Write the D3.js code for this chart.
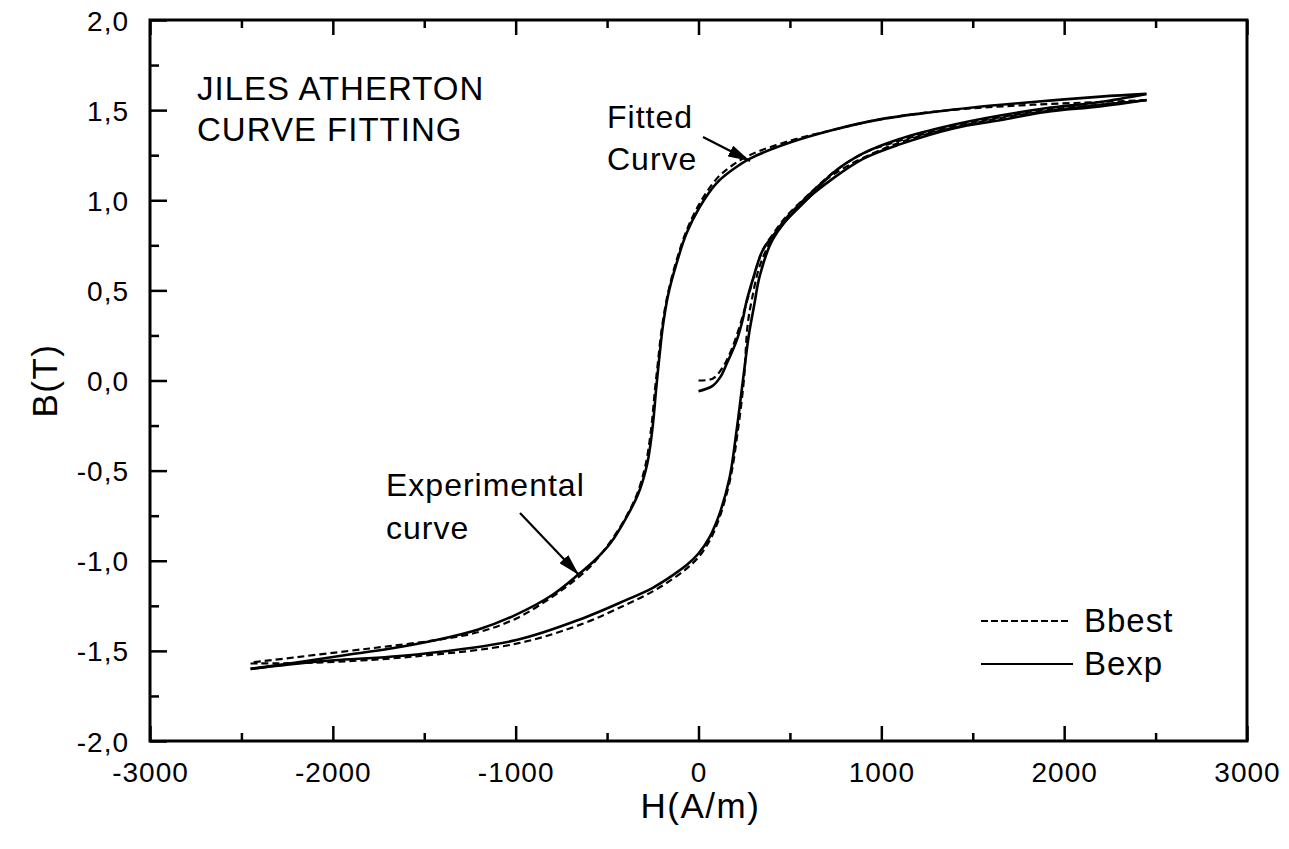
<!DOCTYPE html>
<html>
<head>
<meta charset="utf-8">
<script src="https://cdn.jsdelivr.net/npm/d3@7"></script>
<style>
  html, body { margin: 0; padding: 0; background: #fff; }
  svg { display: block; }
  text { font-family: "Liberation Sans", Arial, sans-serif; fill: #000; }
</style>
</head>
<body>
<svg id="chart" width="1289" height="849"></svg>
<script>
// ---- Data (H in A/m, B in T) ----
const xTickValues = [-3000, -2000, -1000, 0, 1000, 2000, 3000];
const yTickValues = [-2.0, -1.5, -1.0, -0.5, 0.0, 0.5, 1.0, 1.5, 2.0];
const legendLabels = ["Bbest", "Bexp"];

// Bexp (experimental, solid)
const expInitial = [[0,-0.06],[77,-0.03],[120,0.02],[153,0.09],[208,0.22],[240,0.33],[263,0.44],[300,0.57],[350,0.72],[420,0.82],[480,0.89],[600,1.01],[733,1.15],[900,1.26],[1100,1.34],[1400,1.42],[1650,1.47],[1900,1.51],[2195,1.545],[2450,1.59]];
const expDesc = [[2450,1.59],[2200,1.575],[1828,1.545],[1500,1.515],[1281,1.49],[1000,1.45],[734,1.39],[500,1.32],[279,1.23],[180,1.165],[98,1.094],[5,0.96],[-66,0.815],[-120,0.65],[-165,0.48],[-195,0.3],[-215,0.12],[-232,-0.05],[-250,-0.25],[-280,-0.46],[-330,-0.63],[-400,-0.77],[-480,-0.9],[-570,-1.0],[-650,-1.07],[-800,-1.19],[-1000,-1.3],[-1200,-1.38],[-1434,-1.44],[-1700,-1.49],[-1910,-1.52],[-2200,-1.565],[-2450,-1.6]];
const expAsc = [[-2450,-1.6],[-2090,-1.56],[-1543,-1.52],[-996,-1.44],[-634,-1.32],[-400,-1.22],[-250,-1.15],[-140,-1.08],[-60,-1.02],[0,-0.96],[60,-0.87],[115,-0.74],[170,-0.54],[208,-0.28],[243,0.0],[275,0.25],[305,0.42],[335,0.58],[405,0.78],[553,0.97],[734,1.12],[900,1.23],[1100,1.31],[1400,1.4],[1648,1.444],[1900,1.49],[2195,1.52],[2450,1.556]];

// Bbest (fitted, dashed)
const bestInitial = [[0,0.0],[77,0.01],[131,0.07],[180,0.17],[225,0.3],[265,0.44],[350,0.72],[420,0.83],[480,0.91],[600,1.03],[733,1.15],[900,1.26],[1100,1.33],[1400,1.41],[1648,1.46],[1900,1.5],[2195,1.53],[2450,1.555]];
const bestDesc = [[2450,1.555],[2195,1.545],[1828,1.53],[1500,1.51],[1281,1.49],[1000,1.45],[734,1.39],[500,1.33],[279,1.25],[180,1.19],[100,1.12],[5,0.98],[-66,0.83],[-125,0.65],[-170,0.47],[-202,0.28],[-222,0.1],[-240,-0.07],[-258,-0.26],[-290,-0.47],[-340,-0.64],[-415,-0.79],[-500,-0.92],[-590,-1.03],[-680,-1.11],[-800,-1.2],[-996,-1.32],[-1200,-1.395],[-1434,-1.44],[-1700,-1.475],[-1910,-1.5],[-2200,-1.535],[-2450,-1.565]];
const bestAsc = [[-2450,-1.57],[-2090,-1.565],[-1543,-1.53],[-996,-1.46],[-634,-1.35],[-400,-1.245],[-250,-1.17],[-140,-1.1],[-60,-1.04],[0,-0.98],[60,-0.89],[115,-0.76],[175,-0.54],[215,-0.28],[248,0.0],[268,0.3],[292,0.45],[340,0.65],[440,0.85],[553,0.98],[733,1.14],[1100,1.32],[1648,1.455],[2195,1.53],[2450,1.555]];

// ---- Layout ----
const svg = d3.select("#chart");
const pLeft = 150, pRight = 1247, pTop = 20, pBottom = 741;

const x = d3.scaleLinear().domain([-3000, 3000]).range([pLeft, pRight]);
const y = d3.scaleLinear().domain([-2, 2]).range([pBottom, pTop]);

const locale = d3.formatLocale({decimal: ",", thousands: "", grouping: [3], currency: ["", ""], minus: "-"});
const fmtY = locale.format(".1f");
const fmtX = locale.format("d");

const xMinor = d3.range(-2500, 3000, 1000);
const yMinor = d3.range(-1.75, 2, 0.5);

const axisG = svg.append("g");

// Bottom axis
const bottomAxis = d3.axisBottom(x).tickValues(xTickValues).tickFormat(fmtX).tickSizeInner(-15).tickSizeOuter(0).tickPadding(21);
const gB = axisG.append("g").attr("transform", `translate(0,${pBottom})`).call(bottomAxis);
gB.select(".domain").remove();
gB.selectAll(".tick line").attr("stroke-width", 2.5);
gB.selectAll(".tick text").attr("font-size", 28).attr("letter-spacing", 1).attr("dy", "0.71em");
const bottomMinor = d3.axisBottom(x).tickValues(xMinor).tickFormat("").tickSizeInner(-8).tickSizeOuter(0);
const gBm = axisG.append("g").attr("transform", `translate(0,${pBottom})`).call(bottomMinor);
gBm.select(".domain").remove();
gBm.selectAll(".tick line").attr("stroke-width", 2.5);

// Top axis (ticks only)
const topAxis = d3.axisTop(x).tickValues(xTickValues).tickFormat("").tickSizeInner(-15).tickSizeOuter(0);
const gT = axisG.append("g").attr("transform", `translate(0,${pTop})`).call(topAxis);
gT.select(".domain").remove();
gT.selectAll(".tick line").attr("stroke-width", 2.5);
const topMinor = d3.axisTop(x).tickValues(xMinor).tickFormat("").tickSizeInner(-8).tickSizeOuter(0);
const gTm = axisG.append("g").attr("transform", `translate(0,${pTop})`).call(topMinor);
gTm.select(".domain").remove();
gTm.selectAll(".tick line").attr("stroke-width", 2.5);

// Left axis
const leftAxis = d3.axisLeft(y).tickValues(yTickValues).tickFormat(fmtY).tickSizeInner(-17).tickSizeOuter(0).tickPadding(21);
const gL = axisG.append("g").attr("transform", `translate(${pLeft},0)`).call(leftAxis);
gL.select(".domain").remove();
gL.selectAll(".tick line").attr("stroke-width", 2.5);
gL.selectAll(".tick text").attr("font-size", 28).attr("letter-spacing", 1).attr("dy", "0.36em");
const leftMinor = d3.axisLeft(y).tickValues(yMinor).tickFormat("").tickSizeInner(-9).tickSizeOuter(0);
const gLm = axisG.append("g").attr("transform", `translate(${pLeft},0)`).call(leftMinor);
gLm.select(".domain").remove();
gLm.selectAll(".tick line").attr("stroke-width", 2.5);

// Frame
svg.append("rect").attr("x", pLeft).attr("y", pTop).attr("width", pRight - pLeft).attr("height", pBottom - pTop)
  .attr("fill", "none").attr("stroke", "#000").attr("stroke-width", 3);

// Axis titles
svg.append("text").attr("x", (pLeft + pRight) / 2 + 2).attr("y", 818).attr("text-anchor", "middle")
  .attr("font-size", 35).attr("letter-spacing", 1.5).text("H(A/m)");
svg.append("text").attr("transform", `translate(57,${(pTop + pBottom) / 2}) rotate(-90)`).attr("text-anchor", "middle")
  .attr("font-size", 35).attr("letter-spacing", 1.5).text("B(T)");

// Curves
const line = d3.line().x(d => x(d[0])).y(d => y(d[1])).curve(d3.curveCatmullRom.alpha(0.5));
const plot = svg.append("g");
[bestInitial, bestDesc, bestAsc].forEach(s => {
  plot.append("path").datum(s).attr("d", line).attr("fill", "none").attr("stroke", "#000")
    .attr("stroke-width", 2.2).attr("stroke-dasharray", "7,4");
});
[expInitial, expDesc, expAsc].forEach(s => {
  plot.append("path").datum(s).attr("d", line).attr("fill", "none").attr("stroke", "#000")
    .attr("stroke-width", 2.6);
});

// Annotations
const defs = svg.append("defs");
defs.append("marker").attr("id", "arrow").attr("viewBox", "0 0 22 12").attr("refX", 22).attr("refY", 6)
  .attr("markerWidth", 22).attr("markerHeight", 12).attr("markerUnits", "userSpaceOnUse").attr("orient", "auto")
  .append("path").attr("d", "M0,0 L22,6 L0,12 Z").attr("fill", "#000");

const note = (tx, ty, s, size) => svg.append("text").attr("x", tx).attr("y", ty).attr("font-size", size || 32).attr("letter-spacing", 1).text(s);
note(197, 100, "JILES ATHERTON", 33);
note(197, 141, "CURVE FITTING", 33);
note(607, 128, "Fitted");
note(607, 170, "Curve");
note(386, 496, "Experimental");
note(386, 539, "curve");

svg.append("line").attr("x1", 703).attr("y1", 137).attr("x2", 750).attr("y2", 161)
  .attr("stroke", "#000").attr("stroke-width", 2.2).attr("marker-end", "url(#arrow)");
svg.append("line").attr("x1", 520).attr("y1", 513).attr("x2", 579).attr("y2", 575)
  .attr("stroke", "#000").attr("stroke-width", 2.2).attr("marker-end", "url(#arrow)");

// Legend
const legend = svg.append("g");
legend.append("line").attr("x1", 981).attr("x2", 1071).attr("y1", 621).attr("y2", 621)
  .attr("stroke", "#000").attr("stroke-width", 2).attr("stroke-dasharray", "7,3");
legend.append("line").attr("x1", 981).attr("x2", 1073).attr("y1", 664).attr("y2", 664)
  .attr("stroke", "#000").attr("stroke-width", 2);
legend.append("text").attr("x", 1084).attr("y", 632).attr("font-size", 33).attr("letter-spacing", 1).text(legendLabels[0]);
legend.append("text").attr("x", 1084).attr("y", 675).attr("font-size", 33).attr("letter-spacing", 1).text(legendLabels[1]);
</script>
</body>
</html>
